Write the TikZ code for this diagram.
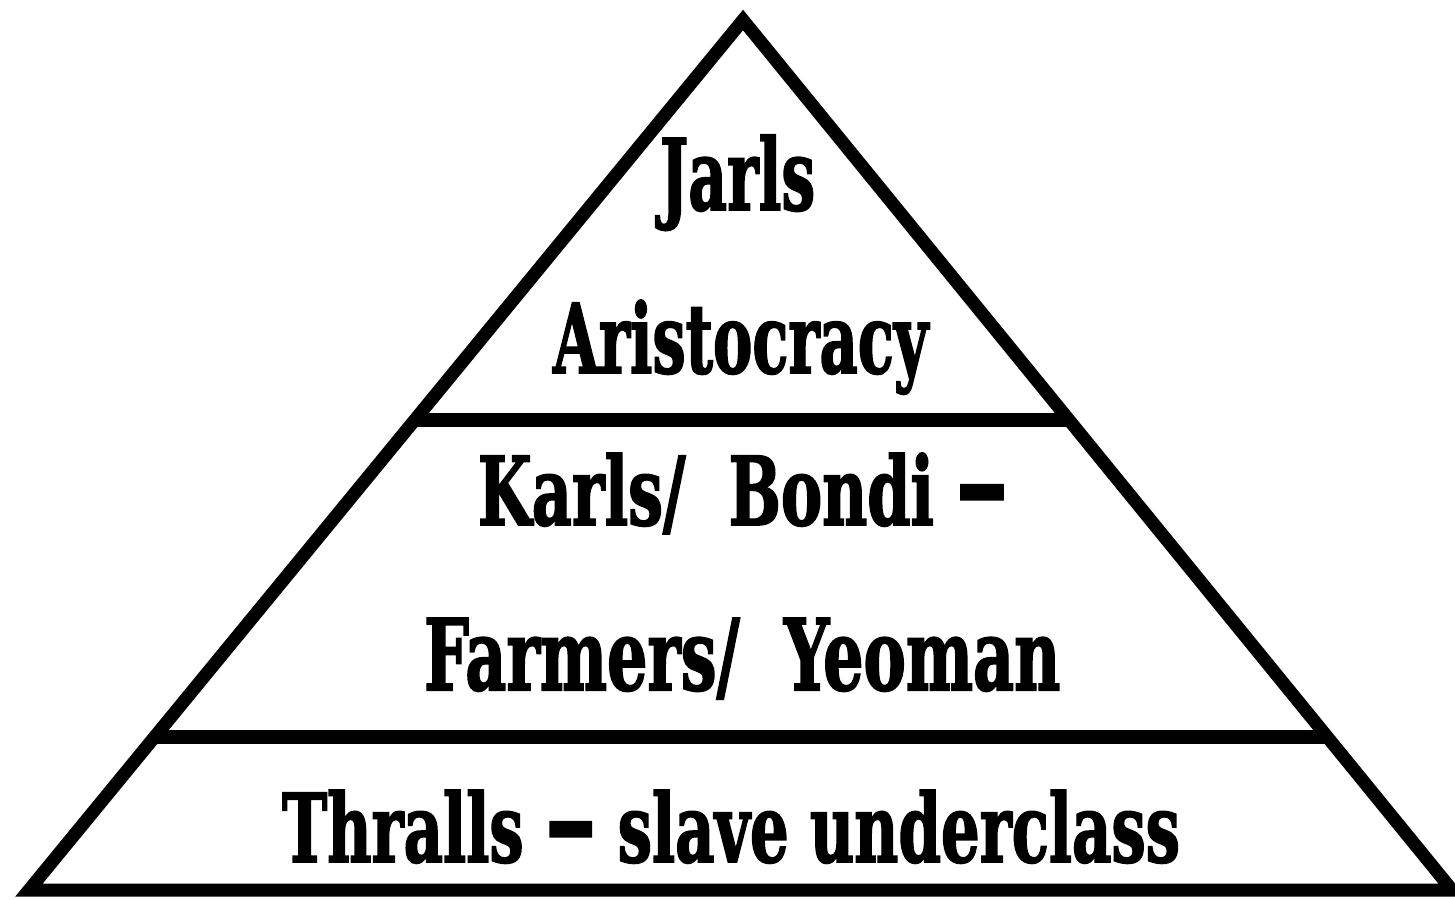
\documentclass[tikz,border=0pt]{standalone}
\usepackage{fontspec}
\usetikzlibrary{calc}
\newfontfamily\pyrfont{DejaVu Serif Condensed}[BoldFeatures={FakeBold=2}]
\newcommand\pyrtext[3]{\resizebox{#1pt}{#2pt}{\pyrfont\bfseries #3}}
\newcommand\pyrdash{\scalebox{1.7}[1.3]{–}}
\tikzset{
  edge/.style={line width=13pt, line join=miter, draw=black},
  band/.style={line width=14pt, draw=black},
  label/.style={inner sep=0pt, outer sep=0pt, anchor=base west}
}
\begin{document}
\begin{tikzpicture}[x=1pt,y=-1pt]
\useasboundingbox (0,0) rectangle (1455,899);
\fill[white] (0,0) rectangle (1455,899);
\coordinate (A) at (743,20);
\coordinate (BL) at (29,890);
\coordinate (BR) at (1452,890);
\draw[edge] (A) -- (BR) -- (BL) -- cycle;
\coordinate (L1) at ($(A)!0.4598!(BL)$);
\coordinate (R1) at ($(A)!0.4598!(BR)$);
\coordinate (L2) at ($(A)!0.8241!(BL)$);
\coordinate (R2) at ($(A)!0.8241!(BR)$);
\draw[band] (L1) -- (R1);
\draw[band] (L2) -- (R2);
\node[label] (jarls) at (660,210) {\pyrtext{155}{75}{Jarls}};
\node[label] (aristo) at (553,373) {\pyrtext{375}{73}{Aristocracy}};
\node[label] (karls) at (478,525) {\pyrtext{530}{72}{Karls/\ \ Bondi\ \pyrdash}};
\node[label] (farmers) at (424,690) {\pyrtext{636}{72}{Farmers/\ \ Yeoman}};
\node[label] (thralls) at (282,862) {\pyrtext{898}{72}{Thralls \pyrdash{} slave underclass}};
\end{tikzpicture}
\end{document}
